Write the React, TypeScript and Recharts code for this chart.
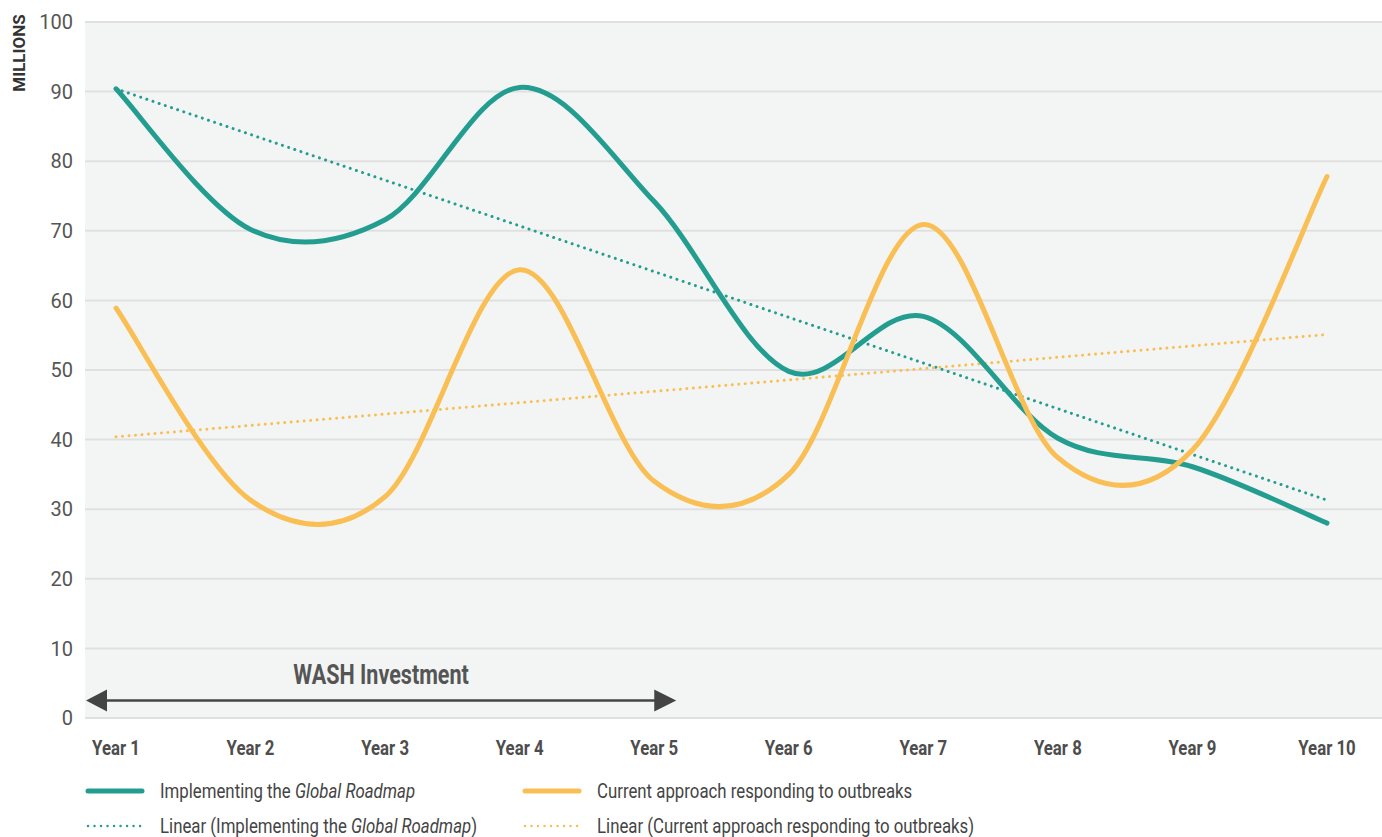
import { LineChart, Line, XAxis, YAxis, CartesianGrid, Legend, ReferenceLine, Label } from 'recharts'

const years = ['Year 1', 'Year 2', 'Year 3', 'Year 4', 'Year 5', 'Year 6', 'Year 7', 'Year 8', 'Year 9', 'Year 10']
const roadmap = [90.4, 70.2, 71.6, 90.6, 74.2, 49.8, 57.7, 40.2, 36.1, 28.0]
const current = [58.9, 31.3, 31.8, 64.4, 34.0, 35.0, 70.9, 37.4, 38.5, 77.8]
// trend lines read at their two ends only
const roadmapTrend = [90.4, null, null, null, null, null, null, null, null, 31.3]
const currentTrend = [40.4, null, null, null, null, null, null, null, null, 55.1]
const yTicks = [0, 10, 20, 30, 40, 50, 60, 70, 80, 90, 100]

const TEAL = '#239d8f'
const GOLD = '#f9bf55'
const FONT = 'Roboto, sans-serif'

const chartData = years.map((year, i) => ({
  year,
  roadmap: roadmap[i],
  current: current[i],
  roadmapTrend: roadmapTrend[i],
  currentTrend: currentTrend[i],
}))

// Excel style smoothed line (Catmull-Rom through the points)
function smoothCurve(context: any) {
  let pts: number[][] = []
  return {
    areaStart() {},
    areaEnd() {},
    lineStart() {
      pts = []
    },
    lineEnd() {
      const n = pts.length
      if (!n) return
      context.moveTo(pts[0][0], pts[0][1])
      for (let i = 0; i < n - 1; i++) {
        const p0 = pts[i - 1] || pts[i]
        const p1 = pts[i]
        const p2 = pts[i + 1]
        const p3 = pts[i + 2] || p2
        context.bezierCurveTo(
          p1[0] + (p2[0] - p0[0]) / 6,
          p1[1] + (p2[1] - p0[1]) / 6,
          p2[0] - (p3[0] - p1[0]) / 6,
          p2[1] - (p3[1] - p1[1]) / 6,
          p2[0],
          p2[1]
        )
      }
    },
    point(x: number, y: number) {
      pts.push([+x, +y])
    },
  }
}

// squeeze text horizontally around x, the reference uses a condensed face
const squeeze = (x: number, k: number) => `translate(${x},0) scale(${k},1) translate(${-x},0)`

function XTick({ x, y, payload }: any) {
  return (
    <text x={x} y={y} dy="0.71em" textAnchor="middle" transform={squeeze(x, 0.84)} fontSize={20} fontWeight="bold" fill="#4d4d4d" fontFamily={FONT}>
      {payload.value}
    </text>
  )
}

function WashArrow(props: any) {
  const { x1, x2, y1 } = props
  const left = x1 - 30
  const right = x2 + 22
  const mid = (left + right) / 2
  return (
    <g>
      <line x1={left + 18} y1={y1} x2={right - 18} y2={y1} stroke="#444" strokeWidth={2.5} />
      <polygon points={`${left},${y1} ${left + 21},${y1 - 11} ${left + 21},${y1 + 11}`} fill="#444" />
      <polygon points={`${right},${y1} ${right - 22},${y1 - 11} ${right - 22},${y1 + 11}`} fill="#444" />
      <text x={mid} y={y1 - 17} textAnchor="middle" transform={squeeze(mid, 0.77)} fontSize={28} fontWeight="bold" fill="#555" fontFamily={FONT}>
        WASH Investment
      </text>
    </g>
  )
}

const legendItems = [
  { color: TEAL, dotted: false, label: <>Implementing the <i>Global Roadmap</i></> },
  { color: GOLD, dotted: false, label: <>Current approach responding to outbreaks</> },
  { color: TEAL, dotted: true, label: <>Linear (Implementing the <i>Global Roadmap</i>)</> },
  { color: GOLD, dotted: true, label: <>Linear (Current approach responding to outbreaks)</> },
]

function renderLegend() {
  return (
    <div style={{ display: 'grid', gridTemplateColumns: '437px auto', rowGap: 5, fontFamily: FONT, fontSize: 21, color: '#444' }}>
      {legendItems.map((item, i) => (
        <div key={i} style={{ display: 'flex', alignItems: 'center', height: 30, whiteSpace: 'nowrap' }}>
          <svg width={60} height={10} style={{ marginRight: 15, flex: 'none' }}>
            <line
              x1={3}
              y1={5}
              x2={57}
              y2={5}
              stroke={item.color}
              strokeWidth={item.dotted ? 2.5 : 5}
              strokeLinecap="round"
              strokeDasharray={item.dotted ? '0.01 6.5' : undefined}
            />
          </svg>
          <span style={{ display: 'inline-block', transform: 'scaleX(0.8)', transformOrigin: 'left center' }}>{item.label}</span>
        </div>
      ))}
    </div>
  )
}

export default function App() {
  return (
    <div style={{ position: 'absolute', left: 0, top: 0 }}>
      <LineChart width={1382} height={837} data={chartData} margin={{ top: 22, right: 0, left: 0, bottom: 0 }}>
        <CartesianGrid vertical={false} fill="#f3f5f4" stroke="#e0e0e0" strokeWidth={2} />
        <XAxis
          dataKey="year"
          axisLine={false}
          tickLine={false}
          height={119}
          tickMargin={17}
          padding={{ left: 31, right: 55 }}
          tick={<XTick />}
          interval={0}
        />
        <YAxis
          domain={[0, 100]}
          ticks={yTicks}
          width={85}
          axisLine={false}
          tickLine={false}
          tickMargin={6}
          tick={{ fontSize: 20, fill: '#555', fontFamily: FONT }}
        >
          <Label
            content={({ viewBox }: any) => {
              const x = viewBox.x + 25
              const y = viewBox.y + 31
              return (
                <text x={x} y={y} transform={`rotate(-90, ${x}, ${y})`} textAnchor="middle" fontSize={17} fontWeight="bold" fill="#333" fontFamily={FONT}>
                  MILLIONS
                </text>
              )
            }}
          />
        </YAxis>
        <ReferenceLine segment={[{ x: 'Year 1', y: 2.5 }, { x: 'Year 5', y: 2.5 }]} shape={WashArrow} />
        <Line dataKey="roadmapTrend" type="linear" connectNulls stroke={TEAL} strokeWidth={3} strokeLinecap="round" strokeDasharray="0.01 6.5" dot={false} isAnimationActive={false} />
        <Line dataKey="currentTrend" type="linear" connectNulls stroke={GOLD} strokeWidth={3} strokeLinecap="round" strokeDasharray="0.01 6.5" dot={false} isAnimationActive={false} />
        <Line dataKey="roadmap" type={smoothCurve as any} stroke={TEAL} strokeWidth={5} strokeLinecap="round" dot={false} isAnimationActive={false} />
        <Line dataKey="current" type={smoothCurve as any} stroke={GOLD} strokeWidth={5} strokeLinecap="round" dot={false} isAnimationActive={false} />
        <Legend
          layout="horizontal"
          verticalAlign="middle"
          align="center"
          content={renderLegend}
          wrapperStyle={{ top: 776, left: 85, width: 1000 }}
        />
      </LineChart>
    </div>
  )
}
